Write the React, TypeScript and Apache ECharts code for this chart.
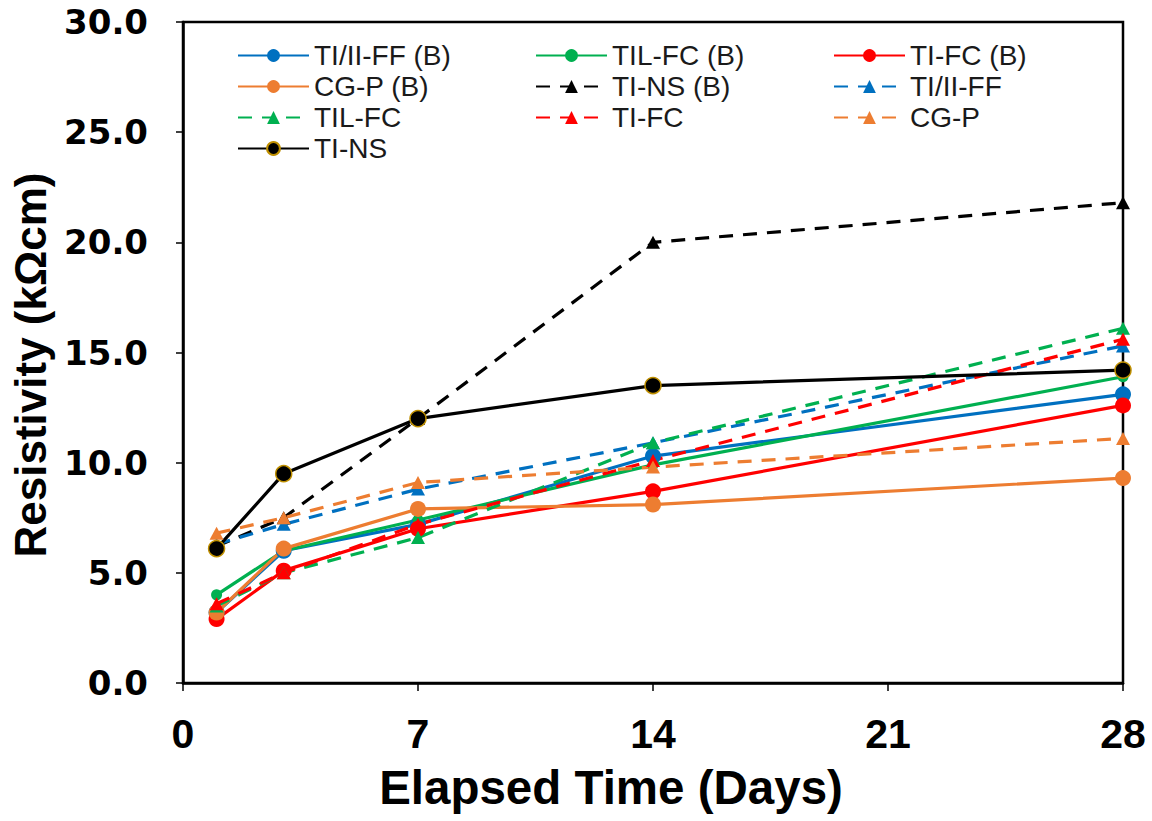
import React, { useEffect, useRef } from "react";
import * as echarts from "echarts";

// Elapsed time of each reading (days)
const days = [1, 3, 7, 14, 28];

// Resistivity readings (kΩcm)
const tiIiFfB = [3.2, 6.0, 7.2, 10.3, 13.1];
const tilFcB = [4.0, 6.0, 7.4, 9.9, 13.9];
const tiFcB = [2.9, 5.1, 7.0, 8.7, 12.6];
const cgPB = [3.2, 6.1, 7.9, 8.1, 9.3];
const tiNsB = [6.2, 7.5, 12.0, 20.0, 21.8];
const tiIiFf = [6.3, 7.2, 8.8, 10.9, 15.3];
const tilFc = [3.5, 5.0, 6.6, 10.9, 16.1];
const tiFc = [3.6, 5.0, 7.2, 10.1, 15.6];
const cgP = [6.8, 7.5, 9.1, 9.8, 11.1];
const tiNs = [6.1, 9.5, 12.0, 13.5, 14.2];

// Axis ranges and tick steps
const xRange = [0, 28];
const xStep = 7;
const yRange = [0, 30];
const yStep = 5;

const BLUE = "#0070C0";
const GREEN = "#00B050";
const RED = "#FF0000";
const ORANGE = "#ED7D31";
const BLACK = "#000000";
const GOLD = "#BF8F00";

type SeriesDef = {
  name: string;
  values: number[];
  color: string;
  dashed: boolean;
  symbol: string;
  size: number | number[];
  border?: string;
};

const seriesDefs: SeriesDef[] = [
  { name: "TI/II-FF (B)", values: tiIiFfB, color: BLUE, dashed: false, symbol: "circle", size: 16 },
  { name: "TIL-FC (B)", values: tilFcB, color: GREEN, dashed: false, symbol: "circle", size: 11 },
  { name: "TI-FC (B)", values: tiFcB, color: RED, dashed: false, symbol: "circle", size: 16 },
  { name: "CG-P (B)", values: cgPB, color: ORANGE, dashed: false, symbol: "circle", size: 16 },
  { name: "TI-NS (B)", values: tiNsB, color: BLACK, dashed: true, symbol: "triangle", size: [14, 13] },
  { name: "TI/II-FF", values: tiIiFf, color: BLUE, dashed: true, symbol: "triangle", size: [14, 13] },
  { name: "TIL-FC", values: tilFc, color: GREEN, dashed: true, symbol: "triangle", size: [14, 13] },
  { name: "TI-FC", values: tiFc, color: RED, dashed: true, symbol: "triangle", size: [14, 13] },
  { name: "CG-P", values: cgP, color: ORANGE, dashed: true, symbol: "triangle", size: [14, 13] },
  { name: "TI-NS", values: tiNs, color: BLACK, dashed: false, symbol: "circle", size: 16, border: GOLD },
];

const legendColumns = [
  { left: 237, names: ["TI/II-FF (B)", "CG-P (B)", "TIL-FC", "TI-NS"] },
  { left: 535, names: ["TIL-FC (B)", "TI-NS (B)", "TI-FC"] },
  { left: 833, names: ["TI-FC (B)", "TI/II-FF", "CG-P"] },
];

export default function App() {
  const ref = useRef<HTMLDivElement>(null);

  useEffect(() => {
    if (!ref.current) return;
    const chart = echarts.init(ref.current, undefined, { renderer: "svg" });

    const series = seriesDefs.map((s) => ({
      name: s.name,
      type: "line",
      data: days.map((d, i) => [d, s.values[i]]),
      symbol: s.symbol,
      symbolSize: s.size,
      showAllSymbol: true,
      lineStyle: {
        color: s.color,
        width: 3.2,
        type: s.dashed ? [14, 10] : "solid",
      },
      itemStyle: {
        color: s.color,
        borderColor: s.border ?? s.color,
        borderWidth: s.border ? 1.5 : 0,
      },
      emphasis: { disabled: true },
    }));

    const legends = legendColumns.map((col) => ({
      show: true,
      orient: "vertical",
      left: col.left,
      top: 40,
      itemWidth: 71,
      itemHeight: 16,
      itemGap: 0,
      padding: 0,
      selectedMode: false,
      textStyle: {
        fontFamily: "'Liberation Sans', Arial, sans-serif",
        fontSize: 28,
        lineHeight: 31,
        color: "#1a1a1a",
      },
      data: col.names,
    }));

    chart.setOption({
      animation: false,
      backgroundColor: "#ffffff",
      grid: {
        left: 183,
        right: 29,
        top: 22,
        bottom: 138,
        show: true,
        borderColor: BLACK,
        borderWidth: 2.5,
        backgroundColor: "transparent",
      },
      legend: legends,
      xAxis: {
        type: "value",
        min: xRange[0],
        max: xRange[1],
        interval: xStep,
        splitLine: { show: false },
        axisLine: { show: true, lineStyle: { color: BLACK, width: 2.5 } },
        axisTick: { show: true, inside: false, length: 8, lineStyle: { color: BLACK, width: 1.5 } },
        axisLabel: {
          margin: 30,
          color: BLACK,
          fontFamily: "'Liberation Sans Narrow', 'Liberation Sans', Arial, sans-serif",
          fontWeight: "bold",
          fontSize: 41,
        },
      },
      yAxis: {
        type: "value",
        min: yRange[0],
        max: yRange[1],
        interval: yStep,
        splitLine: { show: false },
        axisLine: { show: true, lineStyle: { color: BLACK, width: 2.5 } },
        axisTick: { show: true, inside: false, length: 7, lineStyle: { color: BLACK, width: 1.5 } },
        axisLabel: {
          margin: 35,
          color: BLACK,
          fontFamily: "'DejaVu Sans', Verdana, sans-serif",
          fontWeight: "bold",
          fontSize: 34,
          formatter: (v: number) => v.toFixed(1),
        },
      },
      graphic: [
        {
          type: "text",
          x: 611,
          y: 787,
          style: {
            text: "Elapsed Time (Days)",
            fontFamily: "'Liberation Sans', Arial, sans-serif",
            fontWeight: "bold",
            fontSize: 47.5,
            fill: BLACK,
            align: "center",
            verticalAlign: "middle",
          },
        },
        {
          type: "text",
          x: 30,
          y: 365,
          rotation: Math.PI / 2,
          style: {
            text: "Resistivity (kΩcm)",
            fontFamily: "'Liberation Sans', Arial, sans-serif",
            fontWeight: "bold",
            fontSize: 44,
            fill: BLACK,
            align: "center",
            verticalAlign: "middle",
          },
        },
      ],
      series,
    });

    return () => chart.dispose();
  }, []);

  return (
    <div
      ref={ref}
      style={{ position: "fixed", left: 0, top: 0, width: 1152, height: 821, background: "#fff" }}
    />
  );
}
